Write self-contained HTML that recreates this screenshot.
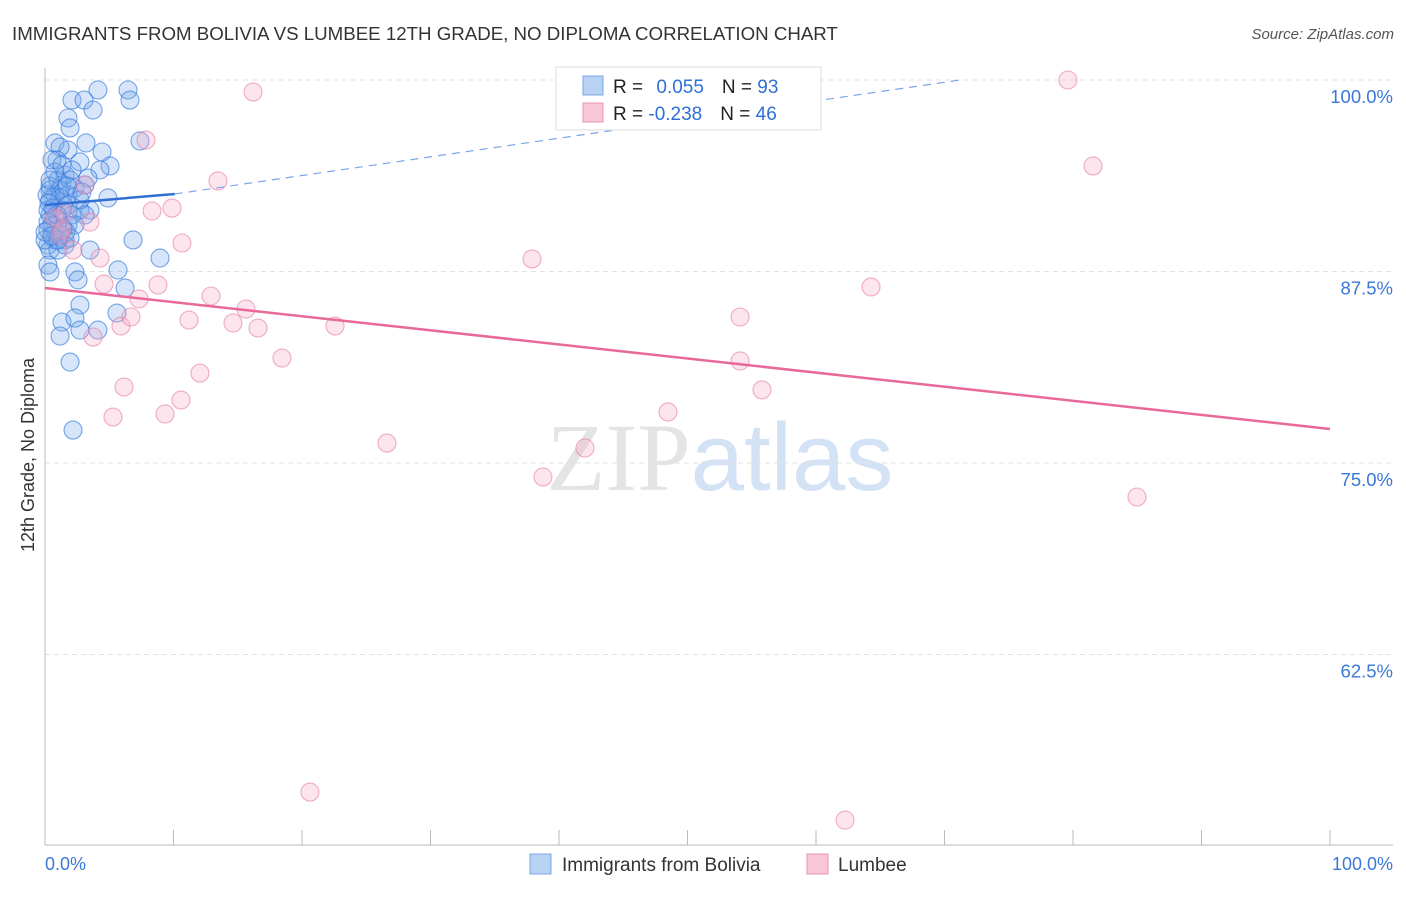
<!DOCTYPE html>
<html><head><meta charset="utf-8"><style>
body{margin:0;background:#fff;font-family:"Liberation Sans",sans-serif}
svg text{font-family:"Liberation Sans",sans-serif}
</style></head><body>
<svg id="c" width="1406" height="892" xmlns="http://www.w3.org/2000/svg">
<text x="12" y="40" font-size="18.7" fill="#333">IMMIGRANTS FROM BOLIVIA VS LUMBEE 12TH GRADE, NO DIPLOMA CORRELATION CHART</text>
<text x="1394" y="39" font-size="15" fill="#555" text-anchor="end" font-style="italic">Source: ZipAtlas.com</text>
<text x="720" y="490" font-size="96" text-anchor="middle"><tspan fill="#e4e4e4" font-family="Liberation Serif">ZIP</tspan><tspan fill="#d4e2f5">atlas</tspan></text>
<text transform="translate(34,455) rotate(-90)" font-size="18" fill="#333" text-anchor="middle">12th Grade, No Diploma</text>
<g id="grid"></g><g id="pts"></g><g id="lines"></g>
<g>
<rect x="556" y="67" width="265" height="63" fill="#fff" stroke="#ddd"/>
<rect x="583" y="76" width="20" height="19" fill="#b8d2f4" stroke="#7aa6e6"/>
<rect x="583" y="103" width="20" height="19" fill="#f9c6d6" stroke="#eb94b0"/>
<text x="613" y="93" font-size="19" fill="#222">R = <tspan fill="#2f6fd6" dx="8">0.055</tspan><tspan dx="18" fill="#222">N = </tspan><tspan fill="#2f6fd6">93</tspan></text>
<text x="613" y="120" font-size="19" fill="#222">R = <tspan fill="#2f6fd6">-0.238</tspan><tspan dx="18" fill="#222">N = </tspan><tspan fill="#2f6fd6">46</tspan></text>
</g>
<g>
<rect x="530" y="854" width="21" height="20" fill="#b8d2f4" stroke="#7aa6e6"/>
<text x="562" y="871" font-size="19" fill="#333">Immigrants from Bolivia</text>
<rect x="807" y="854" width="21" height="20" fill="#f9c6d6" stroke="#eb94b0"/>
<text x="838" y="871" font-size="19" fill="#333">Lumbee</text>
</g>
<text x="45" y="870" font-size="18" fill="#3a78d8">0.0%</text>
<text x="1393" y="870" font-size="18" fill="#3a78d8" text-anchor="end">100.0%</text>
</svg>
<script>
const blueX=[4.12,6.46,2.1,3.04,6.61,3.74,1.79,1.95,3.19,0.78,1.79,1.17,4.44,0.93,2.72,5.06,7.39,4.28,0.78,1.56,0.39,1.32,2.33,3.11,0.78,1.79,4.9,0.39,1.4,2.72,3.5,2.1,0.39,1.01,1.79,0.23,1.17,1.56,0.78,0.23,0.39,3.5,6.85,8.95,0.23,0.39,2.33,5.68,2.57,6.23,2.72,1.32,2.33,5.6,1.17,2.72,4.12,1.95,2.18,0.39,1.01,1.95,2.72,0.78,1.32,0.54,0.23,1.63,0,1.01,0.54,1.32,3.35,1.17,2.1,3.11,1.17,0.16,0.62,1.56,2.33,0.39,1.79,2.88,0.93,0.23,0,1.4,1.95,1.01,0.54,0.31,1.71];
const blueY=[99.35,99.35,98.69,98.69,98.69,98.04,97.52,96.87,95.89,95.89,95.43,95.63,95.3,94.78,94.65,94.39,96.02,94.13,93.99,93.8,93.08,93.15,92.95,93.15,92.49,92.49,92.3,92.17,91.84,91.51,91.51,91.19,91.19,90.86,90.54,90.21,89.88,89.56,89.56,89.23,88.9,88.9,89.56,88.38,87.92,87.47,87.47,87.6,86.95,86.42,85.31,84.2,84.46,84.79,83.29,83.68,83.68,81.59,77.15,92.82,93.47,93.47,92.17,90.21,91.51,90.54,91.51,90.08,89.56,88.9,94.78,94.45,93.6,92.82,94.13,91.19,92.3,92.49,91.64,89.23,90.54,93.47,91.84,92.69,91.19,90.73,90.08,90.34,89.69,89.56,89.82,91.97,93.08];
const pinkX=[79.6,16.19,7.86,81.56,13.46,8.33,9.88,10.66,3.5,37.9,4.28,2.18,1.17,0.78,1.32,1.56,3.11,64.28,4.59,8.79,7.32,12.92,15.64,11.21,16.58,14.63,5.91,6.69,22.57,54.09,3.74,18.44,54.09,6.15,12.06,10.58,55.8,5.29,9.34,48.48,26.61,42.02,38.75,84.98,20.62,62.26];
const pinkY=[100,99.22,96.08,94.39,93.41,91.45,91.64,89.36,90.73,88.32,88.38,88.9,89.88,90.99,90.21,91.32,93.15,86.49,86.68,86.62,85.71,85.9,85.05,84.33,83.81,84.14,83.94,84.53,83.94,84.53,83.22,81.85,81.66,79.96,80.87,79.11,79.77,78.0,78.2,78.33,76.3,75.98,74.09,72.78,53.52,51.69];
const yTicks=[100,87.5,75,62.5];
const yTickLabels=["100.0%","87.5%","75.0%","62.5%"];
const xTicks=[0,10,20,30,40,50,60,70,80,90,100];
const blueTrend=[0,91.84,10.1,92.56,71.2,100];
const pinkTrend=[0,86.42,100,77.22];
const NS="http://www.w3.org/2000/svg";
const X=v=>45+v*12.85, Y=v=>80+(100-v)*15.32;
function mk(tag,attrs,parent){const e=document.createElementNS(NS,tag);for(const k in attrs)e.setAttribute(k,attrs[k]);document.getElementById(parent).appendChild(e);return e;}
yTicks.forEach((t,i)=>{
 const l=mk('line',{x1:45,x2:1393,y1:Y(t),y2:Y(t),stroke:'#e2e2e2','stroke-dasharray':'5,4'},'grid');
 
 
 const tx=mk('text',{x:1393,y:Y(t)+23,'font-size':18.5,fill:'#3a78d8','text-anchor':'end'},'grid');
 tx.textContent=yTickLabels[i];
 
 
});
let ax=mk('line',{x1:45,x2:45,y1:68,y2:845,stroke:'#bbb'},'grid');


ax=mk('line',{x1:45,x2:1393,y1:845,y2:845,stroke:'#bbb'},'grid');


xTicks.forEach(t=>{
 const l=mk('line',{x1:X(t),x2:X(t),y1:830,y2:845,stroke:'#bbb'},'grid');
 
 
});
blueX.forEach((v,i)=>{
 const c=mk('circle',{cx:X(v),cy:Y(blueY[i]),r:9,fill:'rgba(120,170,235,0.3)',stroke:'rgba(50,120,220,0.65)','stroke-width':1.1},'pts');
 
 
});
pinkX.forEach((v,i)=>{
 const c=mk('circle',{cx:X(v),cy:Y(pinkY[i]),r:9,fill:'rgba(245,170,195,0.3)',stroke:'rgba(230,120,160,0.6)','stroke-width':1.1},'pts');
 
 
});
let t=mk('line',{x1:X(blueTrend[0]),y1:Y(blueTrend[1]),x2:X(blueTrend[2]),y2:Y(blueTrend[3]),stroke:'#2f6fd6','stroke-width':2.5},'lines');


t=mk('line',{x1:X(blueTrend[2]),y1:Y(blueTrend[3]),x2:X(blueTrend[4]),y2:Y(blueTrend[5]),stroke:'#7aa6e6','stroke-width':1.2,'stroke-dasharray':'8,6'},'lines');


t=mk('line',{x1:X(pinkTrend[0]),y1:Y(pinkTrend[1]),x2:X(pinkTrend[2]),y2:Y(pinkTrend[3]),stroke:'#e8689a','stroke-width':2.5},'lines');


</script>
</body></html>
